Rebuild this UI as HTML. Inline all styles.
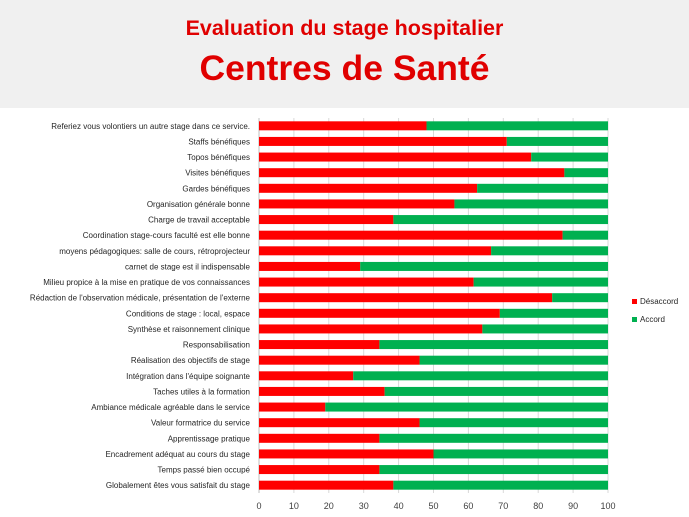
<!DOCTYPE html>
<html><head><meta charset="utf-8"><style>
body{margin:0;width:689px;height:517px;background:#fff;overflow:hidden;font-family:"Liberation Sans",sans-serif}
#hdr{position:absolute;left:0;top:0;width:689px;height:108px;background:#f0f0f0}
.t{position:absolute;left:0;width:689px;text-align:center;color:#e00000;font-weight:bold}
</style></head><body>
<div id="hdr"></div>
<div class="t" style="top:16px;font-size:21.5px">Evaluation du stage hospitalier</div>
<div class="t" style="top:48px;font-size:35.5px">Centres de Santé</div>
<svg id="c" width="689" height="517" style="position:absolute;left:0;top:0"></svg>
<script>
const categories=["Referiez vous volontiers un autre stage dans ce service.","Staffs bénéfiques","Topos bénéfiques","Visites bénéfiques","Gardes bénéfiques","Organisation générale bonne","Charge de travail acceptable","Coordination stage-cours faculté est elle bonne","moyens pédagogiques: salle de cours, rétroprojecteur","carnet de stage est il indispensable","Milieu propice à la mise en pratique de vos connaissances","Rédaction de l'observation médicale, présentation de l'externe","Conditions de stage : local, espace","Synthèse et raisonnement clinique","Responsabilisation","Réalisation des objectifs de stage","Intégration dans l'équipe soignante","Taches utiles à la formation","Ambiance médicale agréable dans le service","Valeur formatrice du service","Apprentissage pratique","Encadrement adéquat au cours du stage","Temps passé bien occupé","Globalement êtes vous satisfait du stage"];
const desaccord=[48,71,78,87.5,62.5,56,38.5,87,66.5,29,61.5,84,69,64,34.5,46,27,36,19,46,34.5,50,34.5,38.5];
const accord=desaccord.map(v=>100-v);
const ticks=[0,10,20,30,40,50,60,70,80,90,100];
const NS="http://www.w3.org/2000/svg",svg=document.getElementById('c');
const x0=259,x1=608,yTop=118,yBot=493;
const xs=v=>x0+(x1-x0)*v/100;
const step=(yBot-yTop)/categories.length;
const yc=i=>yTop+step*(i+0.5);
function mk(t,a){const e=document.createElementNS(NS,t);for(const k in a)e.setAttribute(k,a[k]);svg.appendChild(e);return e;}
ticks.forEach(t=>{
 const g=mk('line',{x1:xs(t),x2:xs(t),y1:yTop,y2:yBot,stroke:'#d9d9d9','stroke-width':1});
 
 
 const l=mk('text',{x:xs(t),y:509,'text-anchor':'middle','font-size':9,fill:'#404040'});
 l.textContent=t;
 
 
});
const ax=mk('line',{x1:x0,x2:x0,y1:yTop,y2:yBot,stroke:'#bfbfbf'});


categories.forEach((c,i)=>{
 const y=yc(i),h=9;
 const r=mk('rect',{x:xs(0),y:y-h/2,width:xs(desaccord[i])-xs(0),height:h,fill:'#ff0000'});
 
 
 const g=mk('rect',{x:xs(desaccord[i]),y:y-h/2,width:xs(desaccord[i]+accord[i])-xs(desaccord[i]),height:h,fill:'#00b050'});
 
 
 const t=mk('text',{x:250,y:y+3,'text-anchor':'end','font-size':8,fill:'#262626'});
 t.textContent=c;
 
 
});
[["Désaccord","#ff0000",302],["Accord","#00b050",320]].forEach(([n,col,y])=>{
 const s=mk('rect',{x:632,y:y-3,width:5,height:5,fill:col});
 
 
 const t=mk('text',{x:640,y:y+2,'font-size':8,fill:'#262626'});
 t.textContent=n;
 
 
});
</script>
</body></html>
